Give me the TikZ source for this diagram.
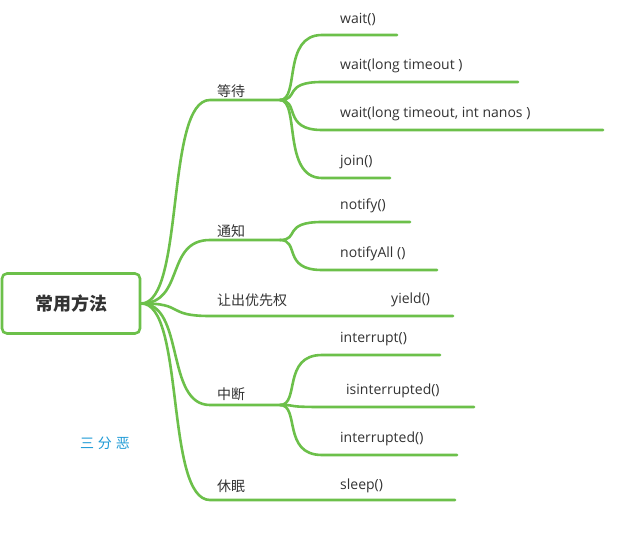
\documentclass[tikz,border=0pt]{standalone}
\usepackage{fontspec}
\setmainfont{Open Sans}
\newfontfamily\cjk{Noto Sans CJK SC}
\definecolor{gr}{HTML}{6CC04A}
\definecolor{tx}{HTML}{333333}
\definecolor{bl}{HTML}{1E9BD7}
\begin{document}
\begin{tikzpicture}[x=1pt,y=-1pt,
  br/.style={draw=gr,line width=2.6pt,line cap=round},
  lbl/.style={anchor=south west,inner sep=0pt,text=tx,font=\fontsize{14}{15}\selectfont},
  clbl/.style={lbl,font=\cjk\fontsize{14}{15}\selectfont}]
\useasboundingbox[fill=white] (0,0) rectangle (617,532);
\node[draw=gr,line width=2.6pt,rounded corners=5pt,minimum width=138pt,minimum height=60pt,text=tx,font=\cjk\bfseries\fontsize{18}{19}\selectfont] (root) at (71,303.5) {常用方法};
\coordinate (h1) at (280,100);
\coordinate (h2) at (280,240);
\coordinate (h3) at (453,316);
\coordinate (h4) at (280,405);
\coordinate (h5) at (455,500);
\foreach \h/\y in {h1/100,h2/240,h3/316,h4/405,h5/500}
  \draw[br] (root.east) .. controls (185,303) and (165,\y) .. (210,\y) -- (\h);
\node[clbl] (t1) at (217,98) {等待};
\node[clbl] (t2) at (217,238) {通知};
\node[clbl] (t3) at (217,307) {让出优先权};
\node[clbl] (t4) at (217,401) {中断};
\node[clbl] (t5) at (217,493) {休眠};
\node[lbl] (yield) at (391,307) {yield()};
\node[lbl] (sleep) at (340,493) {sleep()};
\foreach \h/\hy/\y/\e/\t/\n/\xl in {h1/100/35/397/wait()/a/340, h1/100/82/518/{wait(long timeout )}/b/340, h1/100/130/603/{wait(long timeout, int nanos )}/c/340, h1/100/178/390/join()/d/340,
  h2/240/222/410/notify()/e/340, h2/240/270/437/{notifyAll ()}/f/340,
  h4/405/355/440/interrupt()/g/340, h4/405/407/474/isinterrupted()/h/346, h4/405/455/457/interrupted()/i/340}{
  \coordinate (\n) at (\e,\y);
  \draw[br] (\h) .. controls (300,\hy) and (282,\y) .. (322,\y) -- (\n);
  \node[lbl] (l\n) at (\xl,\y-9) {\t};
}
\node[inner sep=0pt,text=bl,font=\cjk\fontsize{14}{15}\selectfont] (sfe) at (105,443) {三\hspace{4pt}分\hspace{4pt}恶};
\end{tikzpicture}
\end{document}
